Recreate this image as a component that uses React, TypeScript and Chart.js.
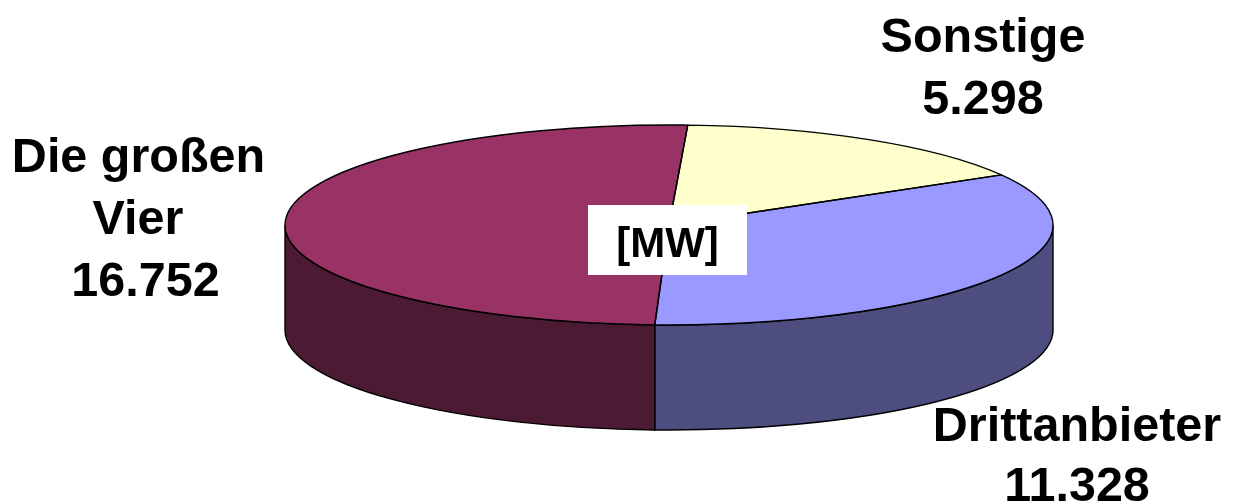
import React, { useEffect, useRef } from "react";
import { Chart, registerables } from "chart.js";

Chart.register(...registerables);

const categories = ["Sonstige", "Drittanbieter", "Die großen Vier"];
const values = [5298, 11328, 16752];
const topColors = ["#FFFFCC", "#9999FF", "#993366"];
const sideColors = ["#80806A", "#4D4D80", "#4D1A33"];
const unitLabel = "[MW]";
const labelLines = [
  ["Sonstige", "5.298"],
  ["Drittanbieter", "11.328"],
  ["Die großen", "Vier", "16.752"],
];

const WIDTH = 1241;
const HEIGHT = 502;
const TILT = { cx: 669, cy: 225, rx: 384, ry: 100, depth: 105 };
const LABEL_FONT = 'bold 48.5px "Liberation Sans", Arial, sans-serif';
const UNIT_FONT = 'bold 42px "Liberation Sans", Arial, sans-serif';
const LABEL_PLACES = [
  [{ x: 983, y: 52 }, { x: 983, y: 114 }],
  [{ x: 1077, y: 441 }, { x: 1077, y: 501 }],
  [{ x: 138.5, y: 172 }, { x: 138, y: 234 }, { x: 145.5, y: 296 }],
];
const UNIT_BOX = { x: 588, y: 205, w: 159, h: 70, baseline: 257 };

function applyTilt(ctx: CanvasRenderingContext2D, arc: any) {
  const s = arc.outerRadius;
  ctx.translate(TILT.cx, TILT.cy);
  ctx.scale(TILT.rx / s, TILT.ry / s);
  ctx.translate(-arc.x, -arc.y);
}

const tiltedPie = {
  id: "tiltedPie",
  beforeDatasetsDraw(chart: any) {
    const ctx: CanvasRenderingContext2D = chart.ctx;
    const arcs = chart.getDatasetMeta(0).data;
    ctx.save();
    ctx.lineWidth = 1.4;
    ctx.strokeStyle = "#000";
    arcs.forEach((arc: any, i: number) => {
      for (const off of [-2 * Math.PI, 0, 2 * Math.PI]) {
        const a = Math.max(arc.startAngle + off, 0);
        const b = Math.min(arc.endAngle + off, Math.PI);
        if (b <= a) continue;
        ctx.beginPath();
        ctx.ellipse(TILT.cx, TILT.cy, TILT.rx, TILT.ry, 0, a, b);
        ctx.ellipse(TILT.cx, TILT.cy + TILT.depth, TILT.rx, TILT.ry, 0, b, a, true);
        ctx.closePath();
        ctx.fillStyle = sideColors[i];
        ctx.fill();
        ctx.stroke();
      }
    });
    ctx.restore();
    ctx.save();
    applyTilt(ctx, arcs[0]);
  },
  afterDatasetsDraw(chart: any) {
    const ctx: CanvasRenderingContext2D = chart.ctx;
    ctx.restore();
    const arcs = chart.getDatasetMeta(0).data;
    arcs.forEach((arc: any) => {
      ctx.save();
      applyTilt(ctx, arc);
      ctx.beginPath();
      ctx.moveTo(arc.x, arc.y);
      ctx.arc(arc.x, arc.y, arc.outerRadius, arc.startAngle, arc.endAngle);
      ctx.closePath();
      ctx.restore();
      ctx.lineWidth = 1.4;
      ctx.strokeStyle = "#000";
      ctx.lineJoin = "round";
      ctx.stroke();
    });
  },
  afterDraw(chart: any) {
    const ctx: CanvasRenderingContext2D = chart.ctx;
    ctx.save();
    ctx.fillStyle = "#FFF";
    ctx.fillRect(UNIT_BOX.x, UNIT_BOX.y, UNIT_BOX.w, UNIT_BOX.h);
    ctx.fillStyle = "#000";
    ctx.textAlign = "center";
    ctx.textBaseline = "alphabetic";
    ctx.font = UNIT_FONT;
    ctx.fillText(unitLabel, UNIT_BOX.x + UNIT_BOX.w / 2, UNIT_BOX.baseline);
    ctx.font = LABEL_FONT;
    labelLines.forEach((lines, i) => {
      lines.forEach((line, k) => {
        const p = LABEL_PLACES[i][k];
        ctx.fillText(line, p.x, p.y);
      });
    });
    ctx.restore();
  },
};

export default function App() {
  const ref = useRef<HTMLCanvasElement>(null);
  useEffect(() => {
    document.body.style.margin = "0";
    const chart = new Chart(ref.current!, {
      type: "pie",
      data: {
        labels: categories,
        datasets: [
          {
            data: values,
            backgroundColor: topColors,
            borderWidth: 0,
            clip: false,
          } as any,
        ],
      },
      options: {
        animation: false,
        responsive: false,
        rotation: 2.8,
        layout: { padding: 0 },
        plugins: { legend: { display: false }, tooltip: { enabled: false } },
      },
      plugins: [tiltedPie],
    } as any);
    return () => chart.destroy();
  }, []);
  return (
    <div style={{ width: WIDTH, height: HEIGHT, overflow: "hidden", background: "#fff" }}>
      <canvas ref={ref} width={WIDTH} height={HEIGHT} style={{ display: "block" }} />
    </div>
  );
}
